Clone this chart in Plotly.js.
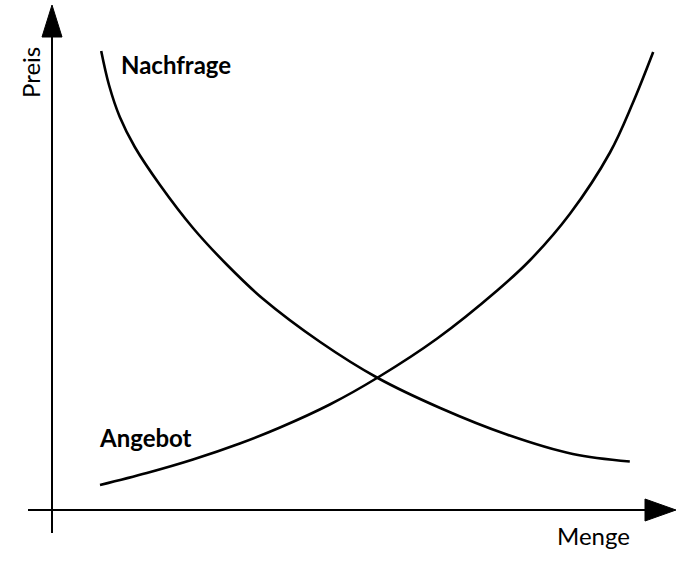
<!DOCTYPE html>
<html>
<head>
<meta charset="utf-8">
<script src="https://cdn.plot.ly/plotly-3.0.1.min.js"></script>
<style>html,body{margin:0;padding:0;background:#fff}#chart{width:680px;height:566px}</style>
</head>
<body>
<div id="chart"></div>
<script>
// Demand curve (Nachfrage): Menge vs Preis
const nachfrageMenge = [0.82, 0.95, 1.13, 1.38, 1.80, 2.35, 2.92, 3.52, 4.47, 5.43, 6.47, 7.58, 8.68, 9.63];
const nachfragePreis = [9.18, 8.50, 7.86, 7.26, 6.50, 5.64, 4.90, 4.22, 3.36, 2.64, 2.04, 1.51, 1.12, 0.97];
// Supply curve (Angebot)
const angebotMenge = [0.80, 1.58, 2.35, 3.13, 3.80, 4.63, 5.43, 6.42, 7.42, 7.97, 8.63, 9.30, 9.68, 10.02];
const angebotPreis = [0.50, 0.74, 1.01, 1.33, 1.65, 2.11, 2.65, 3.43, 4.39, 5.00, 5.92, 7.15, 8.14, 9.16];
// Labels
const curveLabels = ["Nachfrage", "Angebot"];
const axisLabels = ["Menge", "Preis"];

const font = "Lato, 'Open Sans', sans-serif";
const curveStyle = {color: "#000", width: 2.6, shape: "spline", smoothing: 1};

const traces = [
  {x: nachfrageMenge, y: nachfragePreis, mode: "lines", line: curveStyle, name: curveLabels[0], hoverinfo: "skip"},
  {x: angebotMenge, y: angebotPreis, mode: "lines", line: curveStyle, name: curveLabels[1], hoverinfo: "skip"}
];

const layout = {
  width: 680, height: 566,
  margin: {l: 0, r: 0, t: 0, b: 0},
  paper_bgcolor: "#fff", plot_bgcolor: "#fff",
  showlegend: false,
  xaxis: {range: [-52/60, 628/60], visible: false, fixedrange: true},
  yaxis: {range: [-56/50, 510/50], visible: false, fixedrange: true},
  shapes: [
    {type: "line", x0: -0.4, x1: 9.95, y0: 0, y1: 0, line: {color: "#000", width: 2}},
    {type: "line", x0: 0, x1: 0, y0: -0.46, y1: 9.5, line: {color: "#000", width: 2}},
    {type: "path", xsizemode: "pixel", ysizemode: "pixel", xanchor: 10.4, yanchor: 0,
     path: "M0,0 L-31,11 L-31,-11 Z", fillcolor: "#000", line: {color: "#000", width: 1}},
    {type: "path", xsizemode: "pixel", ysizemode: "pixel", xanchor: 0, yanchor: 10.1,
     path: "M0,0 L-10,-32 L10,-32 Z", fillcolor: "#000", line: {color: "#000", width: 1}}
  ],
  annotations: [
    {x: nachfrageMenge[0], y: nachfragePreis[0], xshift: 18, yshift: -13, xanchor: "left", yanchor: "middle",
     text: "<b>" + curveLabels[0] + "</b>", showarrow: false, font: {family: font, size: 24, color: "#000"}},
    {x: angebotMenge[0], y: angebotPreis[0], xshift: -3, yshift: 48, xanchor: "left", yanchor: "middle",
     text: "<b>" + curveLabels[1] + "</b>", showarrow: false, font: {family: font, size: 24, color: "#000"}},
    {x: 10.4, y: 0, xshift: -44, yshift: -25, xanchor: "right", yanchor: "middle",
     text: axisLabels[0], showarrow: false, font: {family: font, size: 24, color: "#000"}},
    {x: 0, y: 9.5, xshift: -22, yshift: -38, xanchor: "center", yanchor: "middle", textangle: -90,
     text: axisLabels[1], showarrow: false, font: {family: font, size: 24, color: "#000"}}
  ]
};

Plotly.newPlot("chart", traces, layout, {staticPlot: true, displayModeBar: false});
</script>
</body>
</html>
